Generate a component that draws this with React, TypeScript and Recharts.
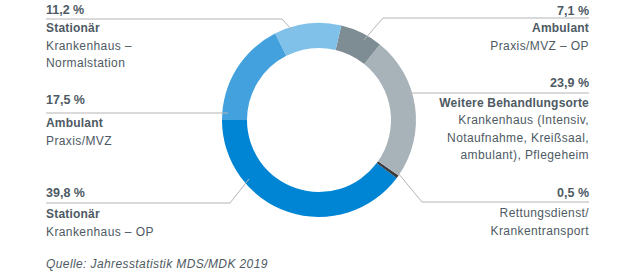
import React from 'react';
import { PieChart, Pie, Cell } from 'recharts';

const categories = [
  'Stationär Krankenhaus – OP',
  'Rettungsdienst/Krankentransport',
  'Weitere Behandlungsorte',
  'Ambulant Praxis/MVZ – OP',
  'Stationär Krankenhaus – Normalstation',
  'Ambulant Praxis/MVZ',
];
const values = [39.8, 0.5, 23.9, 7.1, 11.2, 17.5];
const valueLabels = ['39,8 %', '0,5 %', '23,9 %', '7,1 %', '11,2 %', '17,5 %'];
const titles = ['Stationär', '', 'Weitere Behandlungsorte', 'Ambulant', 'Stationär', 'Ambulant'];
const subLines = [
  ['Krankenhaus – OP'],
  ['Rettungsdienst/', 'Krankentransport'],
  ['Krankenhaus (Intensiv,', 'Notaufnahme, Kreißsaal,', 'ambulant), Pflegeheim'],
  ['Praxis/MVZ – OP'],
  ['Krankenhaus –', 'Normalstation'],
  ['Praxis/MVZ'],
];
const colors = ['#0084d4', '#3a3a3a', '#a8b3b9', '#7e8c93', '#80c1ea', '#43a2de'];

const data = categories.map((name, i) => ({ name, value: values[i] }));

// annotation layout (label blocks + connector geometry relative to pie centre)
const layout = [
  { side: 'L', x: 46, pctY: 197, lineY: 203, titleY: 218, end: [-70, 59], elbow: [-89, 83] },
  { side: 'R', x: 589, pctY: 197, lineY: 202, titleY: 217, end: [79, 53], elbow: [103, 82] },
  { side: 'R', x: 589, pctY: 87, lineY: 93, titleY: 106.5, end: [84, -27], elbow: [84, -27] },
  { side: 'R', x: 589, pctY: 15, lineY: 18, titleY: 32, end: [45, -80], elbow: [64, -102] },
  { side: 'L', x: 46, pctY: 14, lineY: 19, titleY: 32, end: [-27, -90], elbow: [-37, -101] },
  { side: 'L', x: 46, pctY: 104, lineY: 113, titleY: 127, end: [-91, -7], elbow: [-91, -7] },
];

const FONT = 'Arial, "Liberation Sans", sans-serif';
const TEXT = '#4e5a63';
const LINE = '#b4b4b4';

const renderLabel = (props: any) => {
  const { cx, cy, index } = props;
  const l = layout[index];
  const ex = cx + l.end[0];
  const ey = cy + l.end[1];
  const bx = cx + l.elbow[0];
  const anchor = l.side === 'L' ? 'start' : 'end';
  const tx = l.x;
  const points = `${ex},${ey} ${bx},${l.lineY} ${tx},${l.lineY}`;
  let y = l.titleY;
  const lines: React.ReactNode[] = [];
  if (titles[index]) {
    lines.push(
      <text key="t" x={tx} y={y} textAnchor={anchor} fontFamily={FONT} fontSize={12} fontWeight="bold" fill={TEXT} letterSpacing={0.2}>
        {titles[index]}
      </text>
    );
    y += 17.5;
  }
  subLines[index].forEach((s, k) => {
    lines.push(
      <text key={k} x={tx} y={y} textAnchor={anchor} fontFamily={FONT} fontSize={12} fill={TEXT} letterSpacing={0.4}>
        {s}
      </text>
    );
    y += 17.5;
  });
  return (
    <g key={`lbl-${index}`}>
      <polyline points={points} fill="none" stroke={LINE} strokeWidth={1} />
      <text x={tx} y={l.pctY} textAnchor={anchor} fontFamily={FONT} fontSize={12.5} fontWeight="bold" fill={TEXT}>
        {valueLabels[index]}
      </text>
      {lines}
    </g>
  );
};

export default function App() {
  return (
    <div style={{ position: 'absolute', left: 0, top: 0, width: 640, height: 278, background: '#fff' }}>
      <PieChart width={640} height={278} margin={{ top: 0, right: 0, bottom: 0, left: 0 }}>
        <Pie
          data={data}
          dataKey="value"
          nameKey="name"
          cx={319}
          cy={120}
          innerRadius={72}
          outerRadius={97}
          startAngle={180}
          endAngle={540}
          stroke="none"
          isAnimationActive={false}
          label={renderLabel}
          labelLine={false}
        >
          {data.map((d, i) => (
            <Cell key={d.name} fill={colors[i]} />
          ))}
        </Pie>
        <text x={46} y={268} fontFamily={FONT} fontSize={12} fontStyle="italic" fill={TEXT} letterSpacing={0.4}>
          Quelle: Jahresstatistik MDS/MDK 2019
        </text>
      </PieChart>
    </div>
  );
}
